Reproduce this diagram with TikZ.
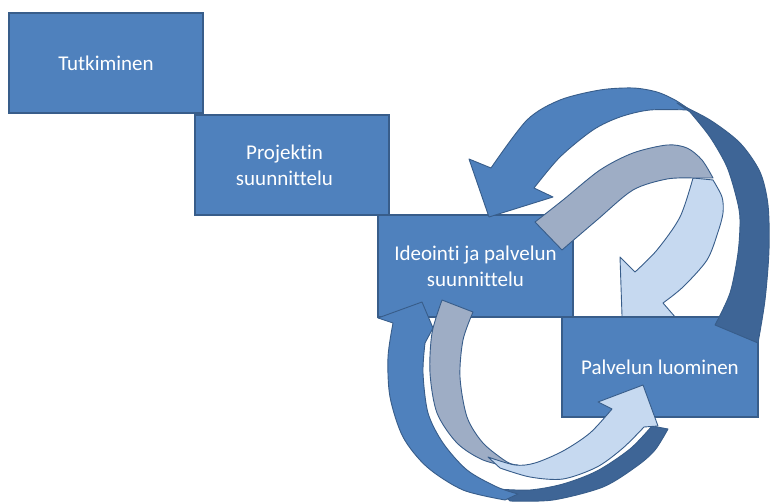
\documentclass[tikz,border=0pt]{standalone}
\usepackage{fontspec}
\setmainfont{Carlito}[Ligatures=NoCommon]
\definecolor{mainblue}{HTML}{4F81BD}
\definecolor{edgeblue}{HTML}{385D8A}
\definecolor{darkblue}{HTML}{3E6596}
\definecolor{grayblue}{HTML}{9EADC5}
\definecolor{lightblue}{HTML}{C6D9F0}
\tikzset{
  stepbox/.style={draw=edgeblue, fill=mainblue, line width=1.2pt, inner sep=0pt,
    minimum width=194pt, minimum height=100pt, align=center, text=white,
    font=\fontsize{21}{26}\selectfont},
  mainface/.style={fill=mainblue, draw=edgeblue, line width=0.9pt, line join=round},
  darkface/.style={fill=darkblue, draw=edgeblue, line width=0.9pt, line join=round},
  grayface/.style={fill=grayblue, draw=edgeblue, line width=0.9pt, line join=round},
  lightface/.style={fill=lightblue, draw=edgeblue, line width=0.9pt, line join=round}
}
\begin{document}
\begin{tikzpicture}[x=1pt, y=-1pt]
\useasboundingbox (0,0) rectangle (771,502);
% top light arrow (behind the last box)
\filldraw[lightface] (693,178) -- plot[smooth] coordinates {(693,178) (680,217) (657,250) (635,272)} -- (620,257) -- (623,345) -- (676,318) -- (663,303) -- plot[smooth] coordinates {(663,303) (683,287) (707,260) (718,232) (723,213) (722,197) (713,180)} -- cycle;
% boxes
\node[stepbox] (tutk) at (106,63) {Tutkiminen};
\node[stepbox] (proj) at (292,165) {Projektin\hspace*{15pt}\\suunnittelu\hspace*{15pt}};
\node[stepbox, minimum width=195pt, minimum height=102pt] (ideo) at (475.5,266) {Ideointi ja palvelun\\suunnittelu};
\node[stepbox, minimum width=196pt] (palv) at (660,367) {Palvelun luominen};
% big top arrow
\filldraw[mainface] (489,217) -- (553,197) -- (534,188) -- plot[smooth] coordinates {(534,188) (560,157) (593,130) (620,117) (650,110) (690,110)} -- plot[smooth] coordinates {(690,110) (675,100) (657,92) (633,88) (600,90) (560,100) (527,120) (491,168)} -- (469,159) -- cycle;
\filldraw[darkface] (677,103) -- plot[smooth] coordinates {(677,103) (710,120) (740,143) (760,172) (768,205) (769,250) (765,300) (758,343)} -- (715,325) -- plot[smooth] coordinates {(715,325) (730,293) (738,253) (740,220) (737,200) (727,167) (710,137) (690,112)} -- cycle;
% top gray ribbon
\filldraw[grayface] (535,222) -- plot[smooth] coordinates {(535,222) (563,200) (600,170) (633,153) (667,145) (687,148) (702,160) (713,178)} -- (693,178) -- plot[smooth] coordinates {(693,178) (667,179) (633,190) (597,220) (562,250)} -- cycle;
% bottom blue arrow
\filldraw[darkface] (497,489) -- plot[smooth] coordinates {(497,489) (530,490) (563,484) (597,471) (630,449) (652,426)} -- (668,429) -- plot[smooth] coordinates {(668,429) (655,450) (637,466) (603,487) (553,500) (510,501)} -- cycle;
\filldraw[mainface] (422,302) -- (433,328) -- (425,343) -- plot[smooth] coordinates {(425,343) (423,373) (428,413) (443,443) (467,470) (497,487) (518,494)} -- (505,500) -- plot[smooth] coordinates {(505,500) (463,490) (427,467) (403,437) (390,397) (388,357) (393,323)} -- (378,318) -- cycle;
% bottom gray ribbon
\filldraw[grayface] (442,300) -- plot[smooth] coordinates {(442,300) (432,333) (430,373) (437,413) (457,443) (483,460) (515,468)} -- (518,465) -- plot[smooth] coordinates {(518,465) (507,462) (483,443) (467,417) (460,377) (463,340) (473,312)} -- cycle;
% bottom light arrow
\filldraw[lightface] (488,457) -- plot[smooth] coordinates {(488,457) (515,465) (535,463) (563,451) (590,433) (612,409)} -- (598,402) -- (643,385) -- (658,426) -- (644,427) -- plot[smooth] coordinates {(644,427) (623,448) (597,467) (563,479) (530,477) (500,468)} -- cycle;
\end{tikzpicture}
\end{document}
